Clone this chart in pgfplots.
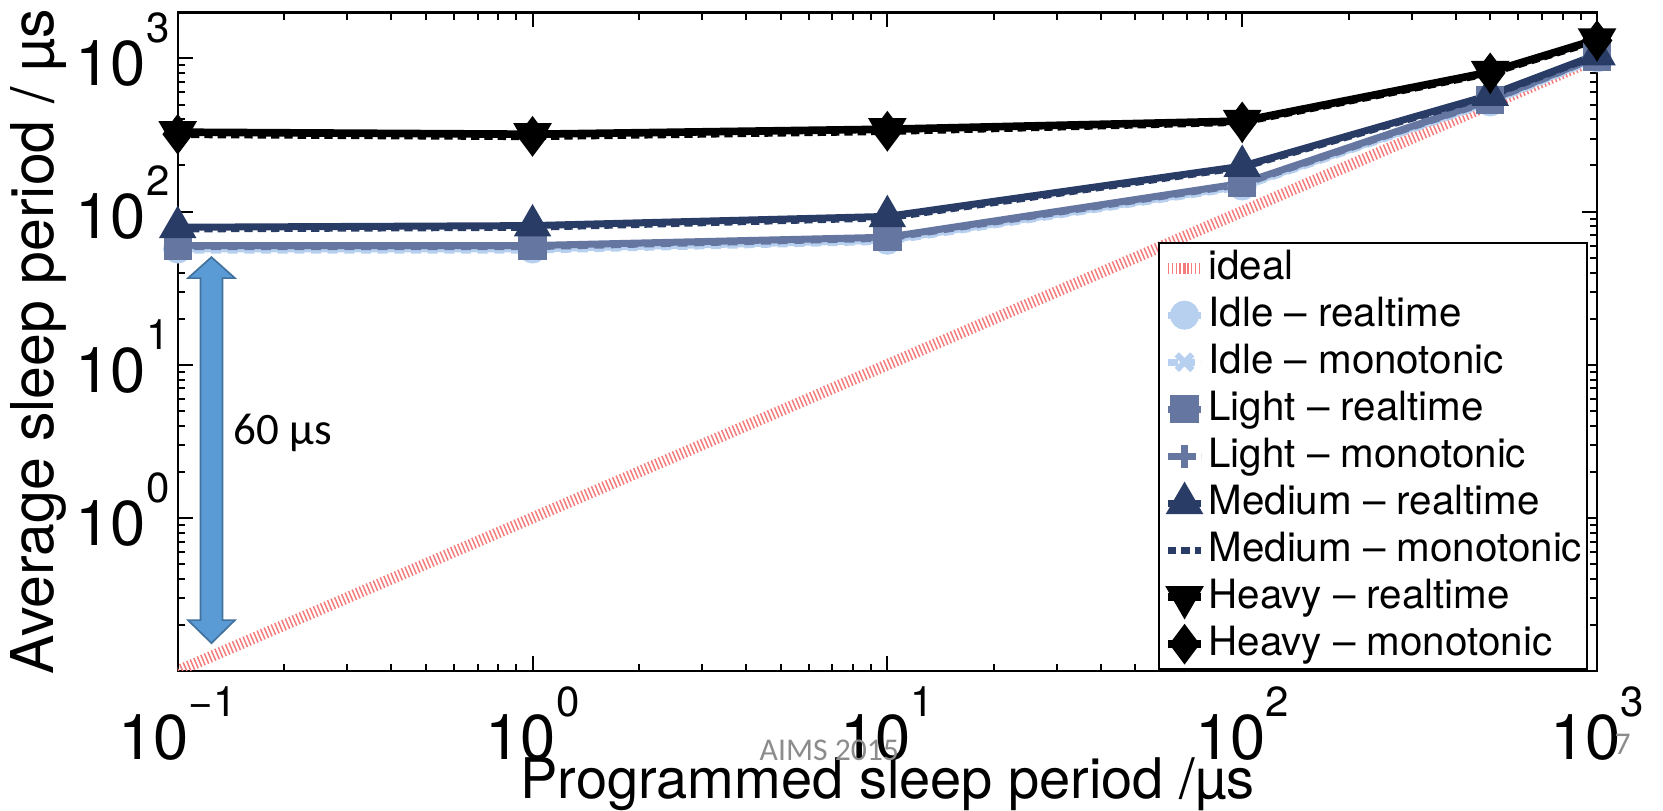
\documentclass[border=0pt]{standalone}
\usepackage{pgfplots}
\pgfplotsset{compat=1.18}
\usepackage{fontspec}
\setmainfont{TeX Gyre Heros}
\newfontfamily\calibri{Carlito}
\usetikzlibrary{calc}

\definecolor{idlec}{HTML}{B7D0EF}
\definecolor{lightc}{HTML}{6577A1}
\definecolor{mediumc}{HTML}{293C65}
\definecolor{idealc}{HTML}{F47C7C}
\definecolor{arrowfill}{HTML}{5B9BD5}
\definecolor{arrowedge}{HTML}{41719C}
\definecolor{slidegray}{HTML}{8C8C8C}

% power-of-ten tick label with a large raised exponent
\newcommand{\pten}[1]{10\raisebox{12.9pt}{\fontsize{12.6}{12.6}\selectfont #1}}

\begin{document}
\begin{tikzpicture}
\begin{axis}[
  at={(0,0)}, anchor=south west,
  scale only axis, width=425.8pt, height=197.6pt,
  xmode=log, ymode=log,
  xmin=0.1, xmax=1000, ymin=0.1, ymax=2000,
  xtick={0.1,1,10,100,1000},
  xticklabels={\pten{−1},\pten{0},\pten{1},\pten{2},\pten{3}},
  ytick={1,10,100,1000},
  yticklabels={\pten{0},\pten{1},\pten{2},\pten{3}},
  minor xtick={0.2,0.3,0.4,0.5,0.6,0.7,0.8,0.9,2,3,4,5,6,7,8,9,20,30,40,50,60,70,80,90,200,300,400,500,600,700,800,900},
  minor ytick={0.2,0.3,0.4,0.5,0.6,0.7,0.8,0.9,2,3,4,5,6,7,8,9,20,30,40,50,60,70,80,90,200,300,400,500,600,700,800,900,2000},
  tick pos=both, tick align=inside,
  xticklabel pos=lower, yticklabel pos=left,
  major tick length=4.5pt, minor tick length=2.2pt,
  every tick/.style={black, line width=0.6pt},
  axis line style={line width=0.7pt},
  xticklabel style={font=\fontsize{19}{19}\selectfont, anchor=north, inner sep=0pt, yshift=-4.6pt},
  yticklabel style={font=\fontsize{19}{19}\selectfont, anchor=base east, inner sep=0pt, xshift=-2.3pt, yshift=-8.2pt},
  xlabel={Programmed sleep period /µs},
  xlabel style={font=\fontsize{16.8}{16.8}\selectfont, at={(axis description cs:0.5,0)}, anchor=base, inner sep=0pt, yshift=-38.4pt},
  ylabel={Average sleep period / µs},
  ylabel style={font=\fontsize{17.7}{17.7}\selectfont, at={(axis description cs:-0.0984,0.5)}, anchor=center, inner sep=0pt},
  legend cell align=left,
  legend image code/.code={\draw[mark repeat=2,mark phase=2] plot coordinates {(0pt,0pt) (5pt,0pt) (10pt,0pt)};},
  legend style={at={(0.9937,0.6513)}, anchor=north east, font=\fontsize{12.1}{12.1}\selectfont,
    draw=black, line width=0.6pt, inner xsep=1pt, inner ysep=0.5pt, row sep=0pt,
    nodes={inner sep=0.5pt, text height=10pt, text depth=3.1pt}},
]
% ideal: programmed period equals measured period
\addplot[idealc, line width=3.4pt, dash pattern=on 0.45pt off 0.7pt]
  coordinates {(0.1,0.1) (1,1) (10,10) (100,100) (500,500) (1000,1000)};
\addlegendentry{ideal}

\addplot[idlec, line width=2.1pt, mark=*, mark size=3.3pt, mark options={solid}]
  coordinates {(0.1,57) (1,57) (10,65) (100,147) (500,520) (1000,1010)};
\addlegendentry{Idle – realtime}

\addplot[idlec, line width=2.1pt, dash pattern=on 3pt off 2pt, mark=x, mark size=3.3pt, mark options={solid, line width=1.8pt}]
  coordinates {(0.1,56) (1,56) (10,64) (100,145) (500,515) (1000,1000)};
\addlegendentry{Idle – monotonic}

\addplot[lightc, line width=2.1pt, mark=square*, mark size=3.2pt, mark options={solid}]
  coordinates {(0.1,60) (1,60) (10,68) (100,153) (500,535) (1000,1030)};
\addlegendentry{Light – realtime}

\addplot[lightc, line width=2.1pt, dash pattern=on 3pt off 2pt, mark=+, mark size=3.5pt, mark options={solid, line width=2pt}]
  coordinates {(0.1,59) (1,59) (10,67) (100,151) (500,530) (1000,1025)};
\addlegendentry{Light – monotonic}

\addplot[mediumc, line width=2.1pt, mark=triangle*, mark size=4.4pt, mark options={solid}]
  coordinates {(0.1,79) (1,81) (10,93) (100,198) (500,577) (1000,1060)};
\addlegendentry{Medium – realtime}

\addplot[mediumc, line width=2.1pt, dash pattern=on 2.5pt off 1.5pt]
  coordinates {(0.1,77) (1,79) (10,91) (100,195) (500,570) (1000,1050)};
\addlegendentry{Medium – monotonic}

\addplot[black, line width=2.3pt, mark=triangle*, mark size=4.4pt, mark options={solid, rotate=180}]
  coordinates {(0.1,330) (1,320) (10,345) (100,390) (500,815) (1000,1330)};
\addlegendentry{Heavy – realtime}

\addplot[black, line width=2.3pt, dash pattern=on 2.5pt off 1.5pt, mark=diamond*, mark size=4.2pt, mark options={solid}]
  coordinates {(0.1,320) (1,310) (10,335) (100,385) (500,805) (1000,1310)};
\addlegendentry{Heavy – monotonic}

\coordinate (arrtop) at (axis cs:0.1245,50.4);
\coordinate (arrbot) at (axis cs:0.1245,0.152);
\node[anchor=west, font=\calibri\fontsize{13.5}{13.5}\selectfont, inner sep=0pt] at (axis cs:0.143,3.57) {60 µs};
\end{axis}

% double-headed block arrow spanning the offset
\filldraw[fill=arrowfill, draw=arrowedge, line width=0.5pt]
  (arrtop) -- ($(arrtop)+(7.05pt,-6.3pt)$) -- ($(arrtop)+(3.3pt,-6.3pt)$)
  -- ($(arrbot)+(3.3pt,6.9pt)$) -- ($(arrbot)+(7.05pt,6.9pt)$) -- (arrbot)
  -- ($(arrbot)+(-7.05pt,6.9pt)$) -- ($(arrbot)+(-3.3pt,6.9pt)$)
  -- ($(arrtop)+(-3.3pt,-6.3pt)$) -- ($(arrtop)+(-7.05pt,-6.3pt)$) -- cycle;

\node[anchor=base west, font=\calibri\fontsize{9.5}{9.5}\selectfont, text=slidegray, inner sep=0pt] at (174.4pt,-27pt) {AIMS 2015};
\node[anchor=base west, font=\calibri\fontsize{9.5}{9.5}\selectfont, text=slidegray, inner sep=0pt] at (430.9pt,-25.2pt) {7};

\pgfresetboundingbox
\path[use as bounding box] (-53.31pt,-42pt) rectangle (445.59pt,201.3pt);
\end{tikzpicture}
\end{document}
